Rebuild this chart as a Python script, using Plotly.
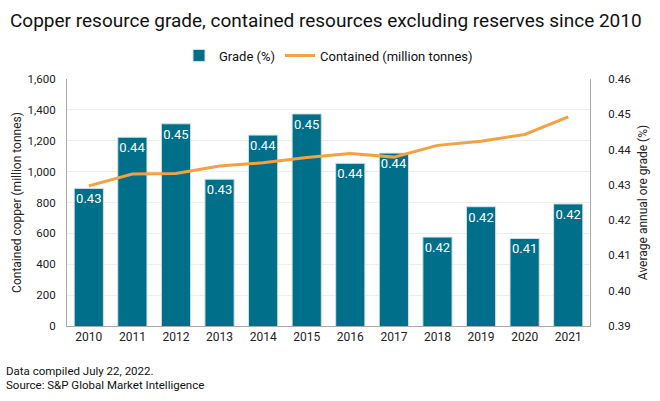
import plotly.graph_objects as go

years = ["2010", "2011", "2012", "2013", "2014", "2015", "2016", "2017", "2018", "2019", "2020", "2021"]
grade = [0.429, 0.4435, 0.4473, 0.4316, 0.4441, 0.4501, 0.4361, 0.4390, 0.4152, 0.4238, 0.4148, 0.4246]
contained = [908, 984, 988, 1036, 1057, 1092, 1118, 1094, 1170, 1197, 1241, 1355]

FONT = "Roboto"
BAR_COLOR = "#006F89"
LINE_COLOR = "#F5A142"

fig = go.Figure()
fig.add_trace(go.Bar(
    x=years, y=grade, name="Grade (%)", yaxis="y",
    marker=dict(color=BAR_COLOR, line=dict(color="#d5e0e4", width=1)),
    text=[f"{g:.2f}" for g in grade], textposition="inside", insidetextanchor="end",
    textangle=0, constraintext="none",
    textfont=dict(color="white", size=13, family=FONT),
))
fig.add_trace(go.Scatter(
    x=years, y=contained, name="Contained (million tonnes)", yaxis="y2",
    mode="lines", line=dict(color=LINE_COLOR, width=3),
))

fig.update_layout(
    width=660, height=401,
    margin=dict(l=67, r=67, t=79, b=75),
    paper_bgcolor="white", plot_bgcolor="white",
    font=dict(family=FONT, size=12, color="#222"),
    title=dict(text="Copper resource grade, contained resources excluding reserves since 2010",
               x=10 / 660, xanchor="left", y=1 - 20.5 / 401, yanchor="middle",
               font=dict(family=FONT, size=19, color="#111")),
    bargap=0.33,
    showlegend=True,
    legend=dict(orientation="h", x=0.5, xanchor="center", y=(326 - 55.5) / 247, yanchor="middle",
                font=dict(size=13, color="#111"), traceorder="normal", itemwidth=30),
    xaxis=dict(type="category", showline=True, linecolor="#aaaaaa", linewidth=1,
               showgrid=False, ticks="", tickfont=dict(size=12)),
    yaxis=dict(side="right", range=[0.39, 0.46], dtick=0.01, tick0=0.39, tickformat=".2f",
               showgrid=False, showline=True, linecolor="#aaaaaa", zeroline=False,
               ticklabelstandoff=15,
               title=dict(text="Average annual ore grade (%)", font=dict(size=12), standoff=8),
               tickfont=dict(size=11.5)),
    yaxis2=dict(side="left", overlaying="y", range=[0, 1600], dtick=200, tickformat=",",
                showgrid=True, gridcolor="#eeeeee", showline=True, linecolor="#aaaaaa",
                zeroline=False, ticklabelstandoff=8,
                title=dict(text="Contained copper (million tonnes)", font=dict(size=12), standoff=3),
                tickfont=dict(size=11.5)),
    annotations=[
        dict(text="Data compiled July 22, 2022.", xref="paper", yref="paper",
             x=(4 - 67) / 526, y=(326 - 371) / 247, xanchor="left", yanchor="middle",
             showarrow=False, font=dict(size=11.5, color="#111")),
        dict(text="Source: S&P Global Market Intelligence", xref="paper", yref="paper",
             x=(4 - 67) / 526, y=(326 - 384.5) / 247, xanchor="left", yanchor="middle",
             showarrow=False, font=dict(size=11.5, color="#111")),
    ],
)

fig.write_html("out.html")
